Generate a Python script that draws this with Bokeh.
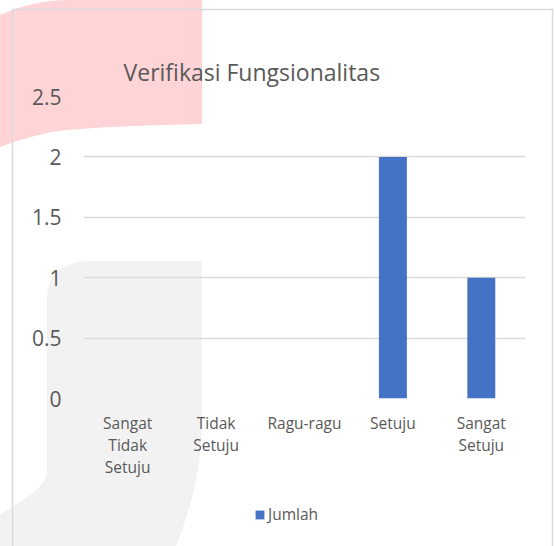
from urllib.parse import quote
from bokeh.plotting import figure
from bokeh.layouts import column
from bokeh.models import ColumnDataSource, FixedTicker, Range1d, Legend, LegendItem
from bokeh.embed import file_html
from bokeh.resources import INLINE

categories = ["Sangat Tidak Setuju", "Tidak Setuju", "Ragu-ragu", "Setuju", "Sangat Setuju"]
tick_labels = ["Sangat\nTidak\nSetuju", "Tidak\nSetuju", "Ragu-ragu", "Setuju", "Sangat\nSetuju"]
jumlah = [0, 0, 0, 2, 1]
y_ticks = [0, 0.5, 1, 1.5, 2, 2.5]
y_tick_labels = ["0", "0.5", "1", "1.5", "2", "2.5"]
title_text = "Verifikasi Fungsionalitas"
series_name = "Jumlah"

FONT = "Open Sans"
TXT = "#595959"
BAR = "#4472C4"

# faint page watermark + chart-area border (pure decoration, CSS background)
svg = ("<svg xmlns='http://www.w3.org/2000/svg' width='554' height='546'>"
       "<path d='M0 15 C20 6 45 0 67 0 H202 V124 C150 125 100 127 67 130 "
       "C45 132 25 138 0 147 Z' fill='#FFD4D7'/>"
       "<path d='M47 300 C47 275 62 262 90 261 H202 V420 C202 470 190 510 176 546 "
       "H0 V515 C20 500 47 490 47 470 Z' fill='#F2F2F2'/>"
       "<path d='M12.5 546 V9.5 H552.5 V546' fill='none' stroke='#D9D9D9' stroke-width='1.5'/>"
       "</svg>")
bg = "url(\"data:image/svg+xml;charset=utf-8," + quote(svg) + "\")"

idx = list(range(len(categories)))
src = ColumnDataSource(dict(x=idx, cat=categories, jumlah=jumlah))

p = figure(width=554, height=490, output_backend="svg", toolbar_location=None,
           x_range=Range1d(-0.5, len(categories) - 0.5), y_range=Range1d(0, 2.5),
           min_border_left=83, min_border_right=29, min_border_top=96, min_border_bottom=92,
           title=title_text)
p.outline_line_color = None
p.background_fill_color = None
p.border_fill_color = None

p.title.text_font = FONT
p.title.text_font_size = "23px"
p.title.text_font_style = "normal"
p.title.text_color = TXT
p.title.align = "left"
p.title.offset = 40
p.title.standoff = 17

r = p.vbar(x="x", top="jumlah", width=0.316, source=src, fill_color=BAR, line_color=None)

p.xgrid.visible = False
p.ygrid.grid_line_color = "#D9D9D9"
p.ygrid.grid_line_width = 1.3

p.yaxis.ticker = FixedTicker(ticks=y_ticks)
p.yaxis.major_label_overrides = {t: l for t, l in zip(y_ticks, y_tick_labels)}
p.xaxis.ticker = FixedTicker(ticks=idx)
p.xaxis.major_label_overrides = {i: l for i, l in zip(idx, tick_labels)}
for ax in (p.xaxis[0], p.yaxis[0]):
    ax.axis_line_color = None
    ax.major_tick_line_color = None
    ax.minor_tick_line_color = None
    ax.major_label_text_font = FONT
    ax.major_label_text_color = TXT
p.yaxis.major_label_text_font_size = "21px"
p.yaxis.major_label_standoff = 16
p.xaxis.major_label_text_font_size = "15.5px"
p.xaxis.major_label_text_line_height = 1.0
p.xaxis.major_label_standoff = 7

# legend strip below the chart (same series, drawn out of view; only its legend shows)
lp = figure(width=554, height=56, output_backend="svg", toolbar_location=None,
            x_range=Range1d(-0.5, len(categories) - 0.5), y_range=Range1d(10, 11),
            min_border=0, min_border_left=0, min_border_right=0,
            min_border_top=0, min_border_bottom=0)
lp.axis.visible = False
lp.grid.visible = False
lp.outline_line_color = None
lp.background_fill_color = None
lp.border_fill_color = None
lr = lp.vbar(x="x", top="jumlah", width=0.316, source=src, fill_color=BAR, line_color=None)

legend = Legend(items=[LegendItem(label=series_name, renderers=[lr])], location=(171, 21),
                orientation="horizontal", glyph_width=11, glyph_height=11,
                label_text_font=FONT, label_text_font_size="15.5px", label_text_color=TXT,
                background_fill_alpha=0, border_line_color=None, padding=0, margin=0,
                label_standoff=3)
lp.add_layout(legend, "center")

layout = column(p, lp, spacing=0)
layout.styles = {"background-image": bg, "background-repeat": "no-repeat"}

open("out.html", "w").write(file_html(layout, INLINE))
